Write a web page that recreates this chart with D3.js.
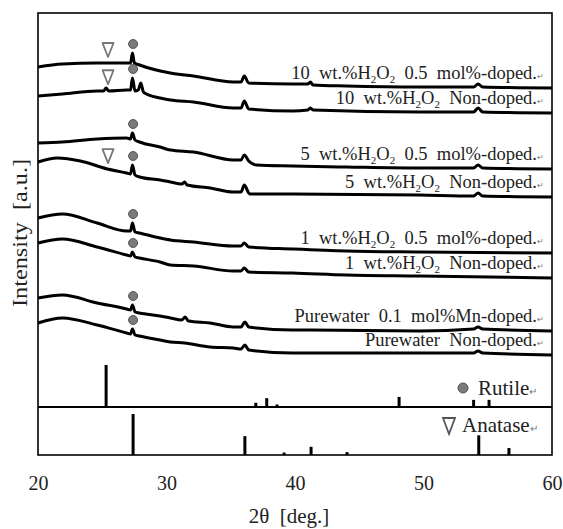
<!DOCTYPE html>
<html>
<head>
<meta charset="utf-8">
<script src="https://cdn.jsdelivr.net/npm/d3@7/dist/d3.min.js"></script>
<style>
  body { margin: 0; background: #fff; }
  text { font-family: "Liberation Serif", "Times New Roman", serif; fill: #222; }
</style>
</head>
<body>
<script>
/* ---- XRD patterns, [2theta, intensity a.u.] ---- */
var s10doped = [[20,388],[21.9,391],[24.6,392],[26.9,392],[27.2,392],[27.35,402],[27.5,392],[27.9,390],[30.3,382],[32.1,379],[35.2,373],[35.8,373],[36.05,379],[36.4,372],[39.8,371],[41.0,371],[41.2,373],[41.4,370],[44,369],[49.7,368],[53.9,368],[54.25,371],[54.6,368],[60,367]];
var s10non = [[20,359],[21.9,361],[24.6,364],[25.1,364],[25.3,367],[25.5,364],[26.9,365],[27.2,365],[27.35,377],[27.55,364],[27.8,365],[28.0,372],[28.2,363],[28.3,362],[29.5,357],[30.3,355],[32.1,353],[35.2,347],[35.8,347],[36.05,354],[36.4,346],[39.8,344],[41.0,345],[41.2,347],[41.4,345],[49.7,343],[53.9,343],[54.25,347],[54.6,343],[60,342]];
var s5doped = [[20,312],[21.9,313],[24.6,316],[26.9,317],[27.2,316],[27.35,322],[27.55,315],[27.9,313],[29.5,308],[30.3,305],[32.1,303],[35.2,295],[35.8,295],[36.05,300],[36.4,294],[37,290],[39.8,289],[44,288],[49.7,287],[53.9,287],[54.25,290],[54.6,287],[60,286]];
var s5non = [[20,293],[21.5,297],[23.3,294],[25.4,286],[26.9,282],[27.2,281],[27.35,290],[27.55,280],[27.9,278],[29.5,275],[30.3,273],[31.2,271],[31.4,273],[31.6,270],[33.4,267],[35.2,263],[35.8,263],[36.05,270],[36.4,262],[36.5,261],[39.8,261],[49.7,260],[53.9,259],[54.25,262],[54.6,259],[60,258]];
var s1doped = [[20,237],[21.9,241],[24.6,232],[26.9,224],[27.2,224],[27.35,232],[27.55,223],[27.9,222],[29.5,217],[30.3,215],[32.1,213],[35.2,209],[35.8,209],[36.05,212],[36.4,208],[39.8,206],[44,204],[49.7,203],[60,202]];
var s1non = [[20,212],[21.9,216],[24.6,208],[26.9,200],[27.2,199],[27.35,203],[27.55,198],[27.9,197],[29.5,193],[30.3,190],[32.1,189],[35.2,184],[35.8,184],[36.05,187],[36.4,183],[39.8,182],[44,180],[49.7,179],[60,177]];
var pwMn = [[20,157],[21.9,160],[24.6,152],[26.9,146],[27.2,145],[27.35,150],[27.55,143],[27.9,142],[29.5,139],[30.3,137],[31.2,135],[31.45,138],[31.7,134],[33.4,132],[35.2,128],[35.8,128],[36.1,133],[36.4,128],[39.8,125],[41.2,125],[49.7,124],[53.9,126],[54.25,128],[54.6,126],[60,124]];
var pwNon = [[20,132],[21.9,137],[24.6,130],[26.9,122],[27.2,121],[27.35,126],[27.55,120],[27.9,119],[29.5,115],[30.3,113],[31.4,112],[33.4,108],[35.2,107],[35.8,106],[36.1,110],[36.4,105],[39.8,102],[41.2,102],[49.7,102],[53.9,102],[54.25,104],[54.6,102],[60,100]];

var patterns = [s10doped, s10non, s5doped, s5non, s1doped, s1non, pwMn, pwNon];
var sampleLabels = [
  ["10  wt.%H", "2", "O", "2", "  0.5  mol%-doped."],
  ["10  wt.%H", "2", "O", "2", "  Non-doped."],
  ["5  wt.%H", "2", "O", "2", "  0.5  mol%-doped."],
  ["5  wt.%H", "2", "O", "2", "  Non-doped."],
  ["1  wt.%H", "2", "O", "2", "  0.5  mol%-doped."],
  ["1  wt.%H", "2", "O", "2", "  Non-doped."],
  ["Purewater  0.1  mol%Mn-doped."],
  ["Purewater  Non-doped."]
];
var anataseMarked = [0, 1, 3];   // patterns with the 25.3 deg mark

// reference sticks [2theta, relative intensity]
var rutileRef = [[25.3,100],[36.95,10],[37.8,21],[38.6,6],[48.1,24],[53.9,17],[55.1,17]];
var anataseRef = [[27.4,100],[36.1,46],[39.15,6],[41.25,20],[44.05,7],[54.3,48],[56.65,17]];
var xTicks = [20, 30, 40, 50, 60];

var W = 563, H = 529;
var pLeft = 38, pRight = 552, pTop = 13, pBottom = 455, divider = 407;

var svg = d3.select("body").append("svg")
  .attr("width", W).attr("height", H);

var x = d3.scaleLinear().domain([20, 60]).range([pLeft, pRight]);
var y = d3.scaleLinear().domain([0, 442]).range([pBottom, pTop]);
var yRut = d3.scaleLinear().domain([0, 100]).range([divider, divider - 42]);
var yAna = d3.scaleLinear().domain([0, 100]).range([pBottom, pBottom - 41]);

var line = d3.line()
  .x(function(d) { return x(d[0]); })
  .y(function(d) { return y(d[1]); })
  .curve(d3.curveMonotoneX);

// value of a pattern at a given angle (for marks and labels)
function valueAt(p, t) {
  for (var i = 1; i < p.length; i++) {
    if (p[i][0] >= t) {
      var a = p[i-1], b = p[i];
      return a[1] + (b[1] - a[1]) * (t - a[0]) / (b[0] - a[0]);
    }
  }
  return p[p.length-1][1];
}
function peakNear(p, t) {
  return d3.max(p.filter(function(d) { return Math.abs(d[0] - t) < 0.25; }), function(d) { return d[1]; });
}

svg.selectAll("path.xrd")
  .data(patterns)
  .enter()
  .append("path")
  .attr("class", "xrd")
  .attr("d", line)
  .attr("fill", "none")
  .attr("stroke", "#000")
  .attr("stroke-width", 3)
  .attr("stroke-linejoin", "round");

// rutile circles above the 27.4 peak
svg.selectAll("circle.rut")
  .data(patterns)
  .enter()
  .append("circle")
  .attr("class", "rut")
  .attr("cx", x(27.4))
  .attr("cy", function(d) { return y(peakNear(d, 27.4)) - 9; })
  .attr("r", 4.5)
  .attr("fill", "#7b7b7b")
  .attr("stroke", "#555")
  .attr("stroke-width", 1);

function tri(cx, cy, w, h) {
  return "M" + (cx - w/2) + "," + (cy - h/2) + "L" + (cx + w/2) + "," + (cy - h/2) +
         "L" + cx + "," + (cy + h/2) + "Z";
}
svg.selectAll("path.ana")
  .data(anataseMarked)
  .enter()
  .append("path")
  .attr("class", "ana")
  .attr("d", function(i) { return tri(x(25.45), y(valueAt(patterns[i], 25.45)) - 13, 11, 14); })
  .attr("fill", "#fff")
  .attr("stroke", "#777")
  .attr("stroke-width", 1.8)
  .attr("stroke-linejoin", "round");

// sample labels, right aligned above each pattern
var labels = svg.selectAll("text.lab")
  .data(sampleLabels)
  .enter()
  .append("text")
  .attr("class", "lab")
  .attr("x", 544)
  .attr("y", function(d, i) { var p = patterns[i]; return y(p[p.length-1][1]) - 9; })
  .attr("text-anchor", "end")
  .attr("font-size", 18.5)
  .style("white-space", "pre");
labels.each(function(parts) {
  var t = d3.select(this);
  var lifted = false;
  parts.forEach(function(s) {
    if (s === "2") {
      t.append("tspan").attr("font-size", 11).attr("dy", 4).text(s);
      lifted = true;
    } else {
      var ts = t.append("tspan").text(s);
      if (lifted) { ts.attr("dy", -4); lifted = false; }
    }
  });
  t.append("tspan").attr("font-size", 8).attr("fill", "#777").text("\u21b5");
});

// reference patterns
svg.selectAll("line.rref")
  .data(rutileRef)
  .enter()
  .append("line")
  .attr("class", "rref")
  .attr("x1", function(d) { return x(d[0]); })
  .attr("x2", function(d) { return x(d[0]); })
  .attr("y1", yRut(0))
  .attr("y2", function(d) { return yRut(d[1]); })
  .attr("stroke", "#000")
  .attr("stroke-width", 3);

svg.selectAll("line.aref")
  .data(anataseRef)
  .enter()
  .append("line")
  .attr("class", "aref")
  .attr("x1", function(d) { return x(d[0]); })
  .attr("x2", function(d) { return x(d[0]); })
  .attr("y1", yAna(0))
  .attr("y2", function(d) { return yAna(d[1]); })
  .attr("stroke", "#000")
  .attr("stroke-width", 3);

svg.append("line")
  .attr("x1", pLeft).attr("x2", pRight)
  .attr("y1", divider).attr("y2", divider)
  .attr("stroke", "#000").attr("stroke-width", 2);

// legend marks in the reference panels
svg.append("circle")
  .attr("cx", 463).attr("cy", 388).attr("r", 5)
  .attr("fill", "#7b7b7b").attr("stroke", "#555");
var rt = svg.append("text").attr("x", 478).attr("y", 395).attr("font-size", 21);
rt.append("tspan").text("Rutile");
rt.append("tspan").attr("font-size", 10).attr("fill", "#777").text("\u21b5");

svg.append("path")
  .attr("d", tri(449, 426, 12, 16))
  .attr("fill", "#fff").attr("stroke", "#555").attr("stroke-width", 1.8);
var at = svg.append("text").attr("x", 462).attr("y", 432).attr("font-size", 21);
at.append("tspan").text("Anatase");
at.append("tspan").attr("font-size", 10).attr("fill", "#777").text("\u21b5");

// frame
svg.append("rect")
  .attr("x", pLeft).attr("y", pTop)
  .attr("width", pRight - pLeft).attr("height", pBottom - pTop)
  .attr("fill", "none").attr("stroke", "#000").attr("stroke-width", 1.6);

// x axis labels only
var xAxis = d3.axisBottom(x).tickValues(xTicks).tickSize(0).tickPadding(21);
var gx = svg.append("g").attr("transform", "translate(0," + pBottom + ")").call(xAxis);
gx.select(".domain").remove();
gx.selectAll("text")
  .attr("font-size", 20)
  .attr("fill", "#222");

svg.append("text")
  .attr("x", 289).attr("y", 523)
  .attr("text-anchor", "middle")
  .attr("font-size", 21)
  .style("white-space", "pre")
  .text("2\u03b8  [deg.]");

svg.append("text")
  .attr("transform", "translate(27,233) rotate(-90)")
  .attr("text-anchor", "middle")
  .attr("font-size", 21)
  .attr("textLength", 148)
  .attr("lengthAdjust", "spacingAndGlyphs")
  .style("white-space", "pre")
  .text("Intensity  [a.u.]");
</script>
</body>
</html>
